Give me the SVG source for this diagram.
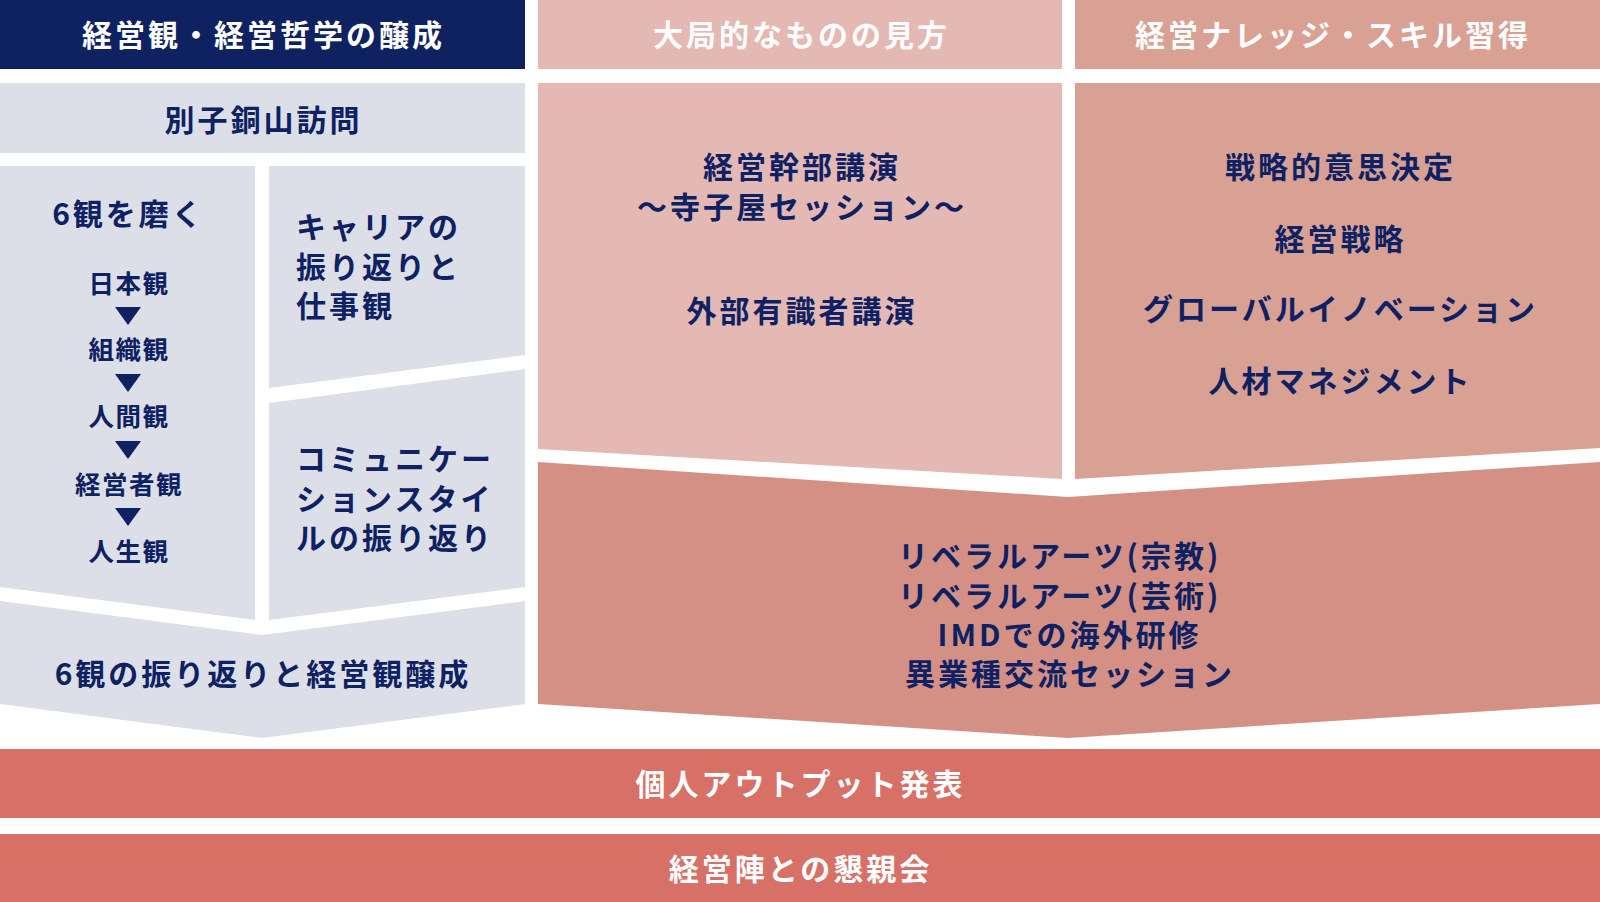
<svg xmlns="http://www.w3.org/2000/svg" width="1600" height="902" viewBox="0 0 1600 902">
<style>
text{font-family:"Noto Sans CJK JP","Noto Sans",sans-serif;font-weight:700;font-size:30px;letter-spacing:3px;dominant-baseline:central}
.w{fill:#ffffff}
.n{fill:#0e2163}
.m{text-anchor:middle}
.s{font-size:25.5px;letter-spacing:1.5px}
.navy{fill:#0e2161}
.gray{fill:#dcdfe8}
.pk1{fill:#e4b8b3}
.pk2{fill:#d9a194}
.pk3{fill:#d49085}
.red{fill:#d77067}
.arr{fill:#0e2163}
</style>
<rect width="1600" height="902" fill="#ffffff"/>
<g id="header-philosophy"><rect class="navy" x="0" y="0" width="525" height="69"/><text class="w m" x="263.5" y="33">経営観・経営哲学の醸成</text></g>
<g id="header-perspective"><rect class="pk1" x="538" y="0" width="524" height="69"/><text class="w m" x="801.5" y="33">大局的なものの見方</text></g>
<g id="header-skill"><rect class="pk2" x="1075" y="0" width="525" height="69"/><text class="w m" x="1333" y="33">経営ナレッジ・スキル習得</text></g>
<g id="node-besshi"><rect class="gray" x="0" y="83" width="525" height="70"/><text class="n m" x="263.5" y="118">別子銅山訪問</text></g>
<g id="node-six"><polygon class="gray" points="0,166 255,166 255,620 0,587"/>
<text class="n m" x="128.5" y="212">6観を磨く</text>
<text class="n m s" x="129" y="281">日本観</text>
<text class="n m s" x="129" y="347.5">組織観</text>
<text class="n m s" x="129" y="414.5">人間観</text>
<text class="n m s" x="129" y="482.5">経営者観</text>
<text class="n m s" x="129" y="549.5">人生観</text></g>
<g id="node-career"><polygon class="gray" points="269,166 525,166 525,355 269,388"/>
<text class="n" x="296" y="224.5">キャリアの</text>
<text class="n" x="296" y="264.5">振り返りと</text>
<text class="n" x="296" y="304">仕事観</text></g>
<g id="node-comm"><polygon class="gray" points="269,403 525,369 525,587 269,620"/>
<text class="n" x="296" y="457">コミュニケー</text>
<text class="n" x="296" y="497">ションスタイ</text>
<text class="n" x="296" y="536">ルの振り返り</text></g>
<g id="node-reflect"><polygon class="gray" points="0,601 262,635 525,601 525,704 262,738 0,704"/>
<text class="n m" x="263" y="672">6観の振り返りと経営観醸成</text></g>
<g id="node-lecture"><polygon class="pk1" points="538,83 1062,83 1062,479 538,449"/>
<text class="n m" x="802" y="165">経営幹部講演</text>
<text class="n m" x="802" y="205">〜寺子屋セッション〜</text>
<text class="n m" x="802" y="309">外部有識者講演</text></g>
<g id="node-knowledge"><polygon class="pk2" points="1075,83 1600,83 1600,448 1075,479"/>
<text class="n m" x="1340.5" y="165">戦略的意思決定</text>
<text class="n m" x="1340.5" y="237">経営戦略</text>
<text class="n m" x="1340.5" y="307">グローバルイノベーション</text>
<text class="n m" x="1340.5" y="379">人材マネジメント</text></g>
<g id="node-liberal"><polygon class="pk3" points="538,462 1068,497 1600,462 1600,704 1068,738 538,704"/>
<text class="n" x="898" y="554">リベラルアーツ(宗教)</text>
<text class="n" x="898" y="594">リベラルアーツ(芸術)</text>
<text class="n m" x="1069.5" y="633">IMDでの海外研修</text>
<text class="n m" x="1070" y="672">異業種交流セッション</text></g>
<g id="node-output"><rect class="red" x="0" y="749" width="1600" height="69"/><text class="w m" x="800.5" y="782">個人アウトプット発表</text></g>
<g id="node-party"><rect class="red" x="0" y="834" width="1600" height="68"/><text class="w m" x="800.5" y="866.5">経営陣との懇親会</text></g>
<g id="connectors">
<polygon class="arr" points="115,307 141,307 128,325"/>
<polygon class="arr" points="115,374 141,374 128,392"/>
<polygon class="arr" points="115,441 141,441 128,459"/>
<polygon class="arr" points="115,508 141,508 128,526"/>
</g>
</svg>
